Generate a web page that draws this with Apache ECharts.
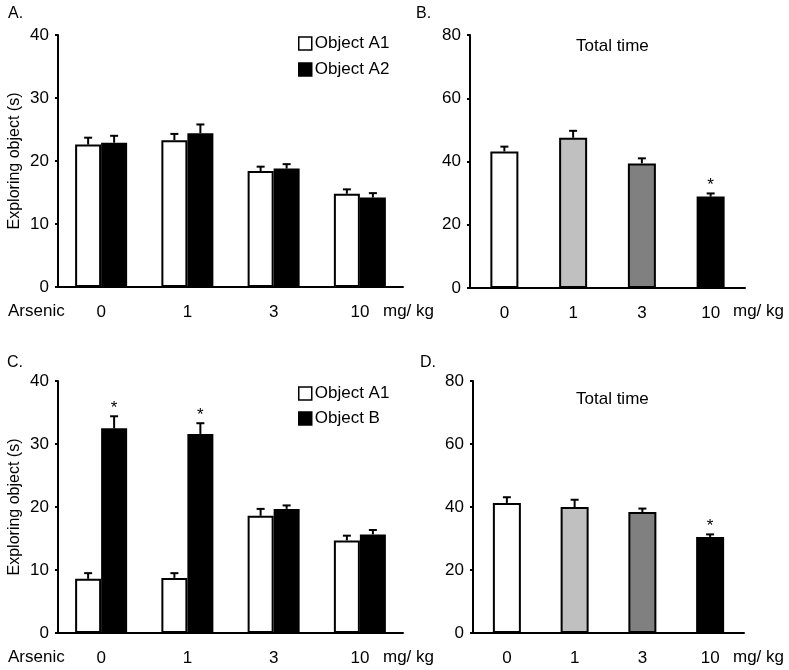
<!DOCTYPE html>
<html><head><meta charset="utf-8">
<script src="https://cdn.jsdelivr.net/npm/echarts@6/dist/echarts.min.js"></script>
<style>html,body{margin:0;padding:0;background:#fff}#c{width:789px;height:670px}</style>
</head><body><div id="c"></div>
<script>
const categories = ['0', '1', '3', '10'];
// Panel A
const aA1 = [22.6, 23.3, 18.4, 14.8];
const aA1Err = [1.1, 1.0, 0.7, 0.7];
const aA2 = [22.9, 24.4, 18.8, 14.2];
const aA2Err = [1.1, 1.4, 0.7, 0.7];
// Panel B
const bTotal = [43.2, 47.5, 39.4, 28.9];
const bErr = [1.5, 2.2, 1.6, 1.0];
const bStars = [3];
// Panel C
const cA1 = [8.6, 8.75, 18.6, 14.7];
const cA1Err = [0.9, 0.75, 1.1, 0.75];
const cB = [32.5, 31.6, 19.7, 15.65];
const cBErr = [1.9, 1.7, 0.55, 0.7];
const cStars = [0, 1];
// Panel D
const dTotal = [41.3, 40.0, 38.4, 30.5];
const dErr = [1.8, 2.3, 1.1, 0.8];
const dStars = [3];
const totalColors = ['#ffffff', '#c0c0c0', '#808080', '#000000'];

const FONT = 'Liberation Sans, Arial, sans-serif';
const chart = echarts.init(document.getElementById('c'));

function xAx(gi) {
  return {
    type: 'category', gridIndex: gi, data: categories,
    axisLine: {lineStyle: {color: '#000', width: 2}},
    axisTick: {inside: true, length: 4, lineStyle: {color: '#000', width: 2}},
    axisLabel: {color: '#000', fontSize: 17, fontFamily: FONT, margin: 17}
  };
}
function yAx(gi, max, interval, name) {
  return {
    type: 'value', gridIndex: gi, min: 0, max: max, interval: interval,
    name: name || '', nameLocation: 'middle', nameGap: 35,
    nameTextStyle: {color: '#000', fontSize: 16, fontFamily: FONT},
    splitLine: {show: false},
    axisLine: {show: true, lineStyle: {color: '#000', width: 2}},
    axisTick: {show: true, length: 3, lineStyle: {color: '#000', width: 2}},
    axisLabel: {color: '#000', fontSize: 17, fontFamily: FONT, margin: 9}
  };
}
function barSeries(name, gi, vals, color, width) {
  return {
    type: 'bar', name: name, xAxisIndex: gi, yAxisIndex: gi, data: vals,
    barWidth: width, barGap: '0%',
    itemStyle: {color: color, borderColor: '#000', borderWidth: 2},
    silent: true, animation: false
  };
}
function totalSeries(gi, vals) {
  return {
    type: 'bar', xAxisIndex: gi, yAxisIndex: gi,
    data: vals.map((v, i) => ({value: v, itemStyle: {color: totalColors[i]}})),
    barWidth: 28,
    itemStyle: {borderColor: '#000', borderWidth: 2},
    silent: true, animation: false
  };
}
function errSeries(gi, vals, errs, offset, stars) {
  return {
    type: 'custom', xAxisIndex: gi, yAxisIndex: gi, z: 5, silent: true, animation: false,
    data: vals.map((v, i) => [i, v, errs[i], stars.indexOf(i) >= 0 ? 1 : 0]),
    renderItem: function (params, api) {
      const p0 = api.coord([api.value(0), api.value(1)]);
      const p1 = api.coord([api.value(0), api.value(1) + api.value(2)]);
      const x = p0[0] + offset;
      const st = {stroke: '#000', lineWidth: 2};
      const children = [
        {type: 'line', shape: {x1: x, y1: p0[1], x2: x, y2: p1[1]}, style: st},
        {type: 'line', shape: {x1: x - 4, y1: p1[1], x2: x + 4, y2: p1[1]}, style: st}
      ];
      if (api.value(3)) {
        children.push({type: 'text', style: {text: '*', x: x, y: p1[1] - 8, textAlign: 'center',
          textVerticalAlign: 'middle', font: '17px ' + FONT, fill: '#000'}});
      }
      return {type: 'group', children: children};
    }
  };
}

const option = {
  backgroundColor: '#fff',
  animation: false,
  grid: [
    {left: 58, top: 35, width: 345, height: 252},
    {left: 470, top: 35, width: 275, height: 253},
    {left: 58, top: 381, width: 345, height: 252},
    {left: 473, top: 381, width: 271, height: 252}
  ],
  xAxis: [xAx(0), xAx(1), xAx(2), xAx(3)],
  yAxis: [yAx(0, 40, 10, 'Exploring object (s)'), yAx(1, 80, 20), yAx(2, 40, 10, 'Exploring object (s)'), yAx(3, 80, 20)],
  legend: [
    {data: ['Object A1', 'Object A2'], orient: 'vertical', left: 298, top: 35, itemWidth: 13, itemHeight: 13,
     itemGap: 9, padding: 0, icon: 'rect', selectedMode: false,
     itemStyle: {borderColor: '#000', borderWidth: 1.5},
     textStyle: {color: '#000', fontSize: 17, fontFamily: FONT, padding: [0, 0, 0, -2]}},
    {data: ['Object A1', 'Object B'], orient: 'vertical', left: 298, top: 385, itemWidth: 13, itemHeight: 13,
     itemGap: 8, padding: 0, icon: 'rect', selectedMode: false,
     itemStyle: {borderColor: '#000', borderWidth: 1.5},
     textStyle: {color: '#000', fontSize: 17, fontFamily: FONT, padding: [0, 0, 0, -2]}}
  ],
  graphic: [
    {type: 'text', left: 8, top: 6, style: {text: 'A.', font: '16px ' + FONT, fill: '#000'}},
    {type: 'text', left: 416, top: 6, style: {text: 'B.', font: '16px ' + FONT, fill: '#000'}},
    {type: 'text', left: 7, top: 355, style: {text: 'C.', font: '16px ' + FONT, fill: '#000'}},
    {type: 'text', left: 420, top: 355, style: {text: 'D.', font: '16px ' + FONT, fill: '#000'}},
    {type: 'text', left: 8, top: 303, style: {text: 'Arsenic', font: '17px ' + FONT, fill: '#000'}},
    {type: 'text', left: 8, top: 649, style: {text: 'Arsenic', font: '17px ' + FONT, fill: '#000'}},
    {type: 'text', left: 383, top: 303, style: {text: 'mg/ kg', font: '17px ' + FONT, fill: '#000'}},
    {type: 'text', left: 383, top: 649, style: {text: 'mg/ kg', font: '17px ' + FONT, fill: '#000'}},
    {type: 'text', left: 733, top: 303, style: {text: 'mg/ kg', font: '17px ' + FONT, fill: '#000'}},
    {type: 'text', left: 733, top: 649, style: {text: 'mg/ kg', font: '17px ' + FONT, fill: '#000'}},
    {type: 'text', left: 576, top: 38, style: {text: 'Total time', font: '17px ' + FONT, fill: '#000'}},
    {type: 'text', left: 576, top: 391, style: {text: 'Total time', font: '17px ' + FONT, fill: '#000'}}
  ],
  series: [
    barSeries('Object A1', 0, aA1, '#ffffff', 26),
    barSeries('Object A2', 0, aA2, '#000000', 26),
    errSeries(0, aA1, aA1Err, -13, []),
    errSeries(0, aA2, aA2Err, 13, []),
    totalSeries(1, bTotal),
    errSeries(1, bTotal, bErr, 0, bStars),
    barSeries('Object A1', 2, cA1, '#ffffff', 26),
    barSeries('Object B', 2, cB, '#000000', 26),
    errSeries(2, cA1, cA1Err, -13, []),
    errSeries(2, cB, cBErr, 13, cStars),
    totalSeries(3, dTotal),
    errSeries(3, dTotal, dErr, 0, dStars)
  ]
};
chart.setOption(option);
</script></body></html>
